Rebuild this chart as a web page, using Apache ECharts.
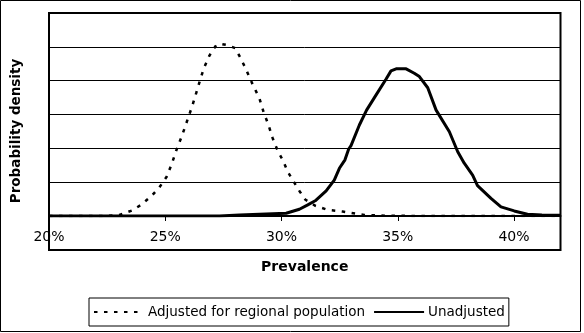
<!DOCTYPE html>
<html>
<head>
<meta charset="utf-8">
<script src="https://cdn.jsdelivr.net/npm/echarts@6/dist/echarts.min.js"></script>
<style>
  html, body { margin: 0; padding: 0; background: #fff; }
  #chart { width: 584px; height: 333px; }
</style>
</head>
<body>
<div id="chart"></div>
<script>
// Prevalence (%) and probability density (relative units) of the two estimates
const adjustedPct = [20, 22.46, 23.03, 23.56, 23.96, 24.42, 24.75, 25.06, 25.28, 25.47, 25.73, 25.97,
  26.16, 26.33, 26.5, 26.66, 26.9, 27.19, 27.45, 27.69, 28.01, 28.23, 28.45, 28.76, 29.05, 29.23,
  29.44, 29.62, 29.84, 30.05, 30.27, 30.51, 30.77, 31.03, 31.46, 31.99, 32.63, 33.56, 34.5, 36, 38, 40, 42];
const adjustedDensity = [0, 0, 0.03, 0.16, 0.33, 0.6, 0.85, 1.16, 1.54, 1.93, 2.39, 2.87,
  3.25, 3.63, 4.02, 4.37, 4.74, 5.05, 5.08, 5.05, 4.96, 4.68, 4.37, 3.89, 3.48, 3.07,
  2.69, 2.3, 1.92, 1.66, 1.31, 1.03, 0.74, 0.48, 0.3, 0.18, 0.13, 0.03, 0.01, 0, 0, 0, 0];

const unadjustedPct = [20, 25, 27.33, 28.19, 30.2, 30.77, 31.13, 31.45, 31.92, 32.27, 32.49, 32.73,
  32.89, 32.99, 33.35, 33.66, 34.07, 34.5, 34.71, 34.93, 35.36, 35.71, 35.93, 36.29, 36.65, 37.22,
  37.58, 37.86, 38.22, 38.43, 39.01, 39.44, 40.01, 40.58, 41.2, 42];
const unadjustedDensity = [0, 0, 0, 0.03, 0.08, 0.2, 0.33, 0.45, 0.74, 1.06, 1.41, 1.66,
  1.98, 2.08, 2.69, 3.13, 3.58, 4.05, 4.29, 4.35, 4.35, 4.22, 4.12, 3.79, 3.13, 2.49,
  1.9, 1.56, 1.21, 0.9, 0.52, 0.27, 0.15, 0.05, 0.03, 0.02];

const seriesNames = ['Adjusted for regional population', 'Unadjusted'];
const xTicks = [20, 25, 30, 35, 40];

const pairs = (xs, ys) => xs.map((x, i) => [x, ys[i]]);
const FONT = 'DejaVu Sans';

const chart = echarts.init(document.getElementById('chart'), null, { renderer: 'canvas' });
chart.setOption({
  animation: false,
  backgroundColor: '#fff',
  grid: { left: 49, right: 23.5, top: 13, bottom: 117, containLabel: false },
  xAxis: {
    type: 'value', min: 20, max: 42, interval: 5,
    name: 'Prevalence', nameLocation: 'middle', nameGap: 44,
    nameTextStyle: { fontFamily: FONT, fontSize: 14, fontWeight: 'bold', color: '#000' },
    axisLine: { show: true, lineStyle: { color: '#000', width: 2 } },
    axisTick: { show: true, inside: false, length: 5, lineStyle: { color: '#000', width: 1 } },
    axisLabel: {
      margin: 14, fontFamily: FONT, fontSize: 14, color: '#000',
      formatter: v => (xTicks.indexOf(v) >= 0 ? v + '%' : '')
    },
    splitLine: { show: false }
  },
  yAxis: {
    type: 'value', min: 0, max: 6, interval: 1,
    axisLine: { show: false }, axisTick: { show: false }, axisLabel: { show: false },
    splitLine: { show: true, lineStyle: { color: '#000', width: 1 } }
  },
  legend: {
    left: 89, top: 298,
    padding: [7, 4],
    itemWidth: 50, itemHeight: 14, itemGap: 8,
    borderColor: '#000', borderWidth: 1, backgroundColor: '#fff',
    itemStyle: { opacity: 0 },
    textStyle: { fontFamily: FONT, fontSize: 13.5, color: '#000', padding: [0, 0, 0, -1] },
    data: seriesNames
  },
  graphic: [
    { type: 'rect', silent: true, z: 100,
      shape: { x: 0.5, y: 0.5, width: 580, height: 331 },
      style: { fill: null, stroke: '#000', lineWidth: 1 } },
    { type: 'rect', silent: true, z: 100,
      shape: { x: 49, y: 13, width: 511.5, height: 237 },
      style: { fill: null, stroke: '#000', lineWidth: 2 } },
    { type: 'text', silent: true, z: 100,
      x: 16, y: 131, rotation: Math.PI / 2,
      style: { text: 'Probability density', fontFamily: FONT, fontSize: 13.5, fontWeight: 'bold',
               fill: '#000', align: 'center', verticalAlign: 'middle' } }
  ],
  series: [
    {
      name: seriesNames[0], type: 'line', symbol: 'none', smooth: false,
      data: pairs(adjustedPct, adjustedDensity),
      lineStyle: { color: '#000', width: 2.5, type: [3.5, 6.5] },
      itemStyle: { color: '#000' }
    },
    {
      name: seriesNames[1], type: 'line', symbol: 'none', smooth: false,
      data: pairs(unadjustedPct, unadjustedDensity),
      lineStyle: { color: '#000', width: 3, type: 'solid' },
      itemStyle: { color: '#000' }
    }
  ]
});
</script>
</body>
</html>
